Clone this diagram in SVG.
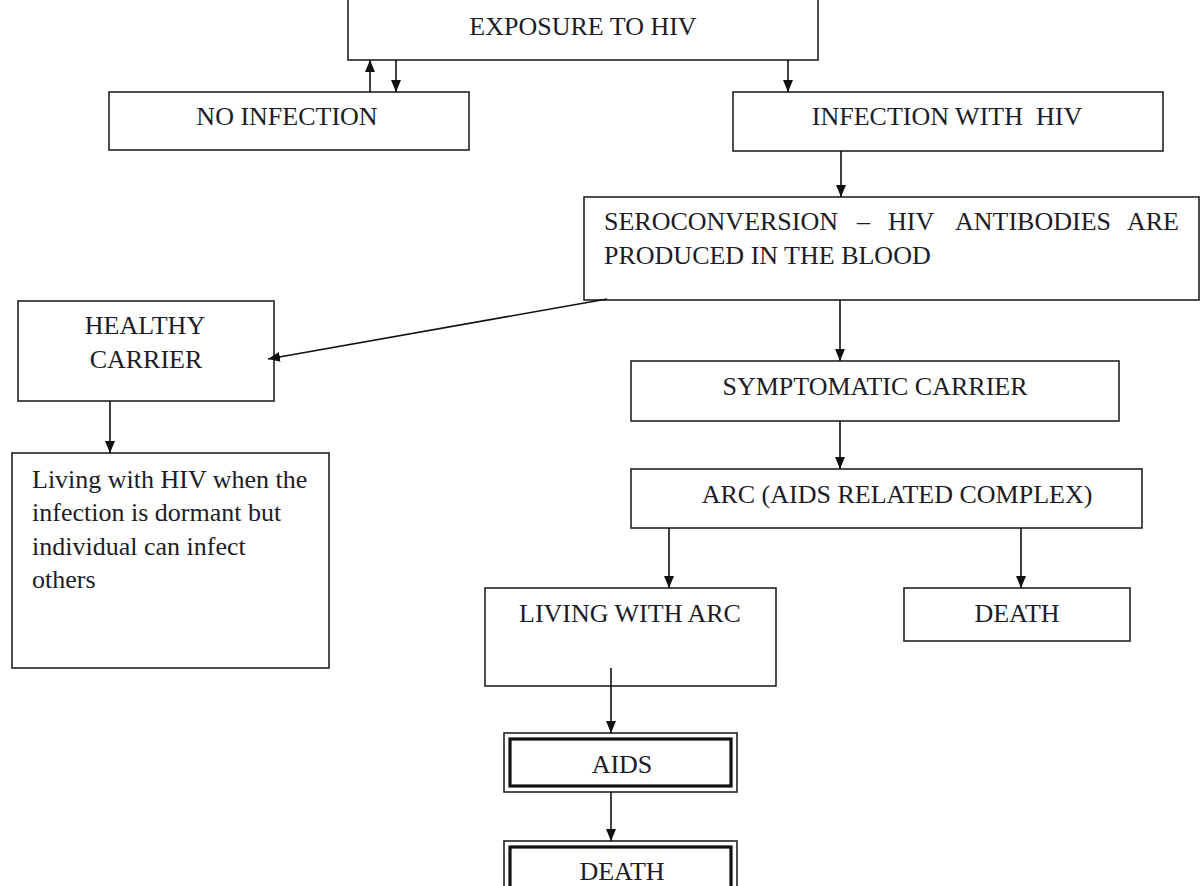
<svg xmlns="http://www.w3.org/2000/svg" width="1202" height="886" viewBox="0 0 1202 886">
<style>
.box{fill:#fff;stroke:#222;stroke-width:1.6}
.thick{fill:none;stroke:#111;stroke-width:3.2}
.t{font-family:"Liberation Serif","Times New Roman",serif;font-size:26px;fill:#1c1c28}
.c{text-anchor:middle}
.conn line{stroke:#111;stroke-width:1.6;marker-end:url(#ah)}
</style>
<defs>
<marker id="ah" viewBox="0 0 12 10" refX="12" refY="5" markerWidth="12" markerHeight="10" markerUnits="userSpaceOnUse" orient="auto">
<path d="M0,0 L12,5 L0,10 z" fill="#111"/>
</marker>
</defs>
<rect width="1202" height="886" fill="#fff"/>
<g id="exposure"><rect class="box" x="348" y="-10" width="470" height="70"/><text class="t c" x="583" y="35">EXPOSURE TO HIV</text></g>
<g id="no-infection"><rect class="box" x="109" y="92" width="360" height="58"/><text class="t c" x="287" y="125">NO INFECTION</text></g>
<g id="infection"><rect class="box" x="733" y="92" width="430" height="59"/><text class="t c" x="947" y="125" xml:space="preserve">INFECTION WITH  HIV</text></g>
<g id="seroconversion"><rect class="box" x="584" y="197" width="615" height="103"/>
<text class="t" y="230"><tspan x="604">SEROCONVERSION</tspan><tspan x="857">–</tspan><tspan x="888">HIV</tspan><tspan x="955">ANTIBODIES</tspan><tspan x="1127">ARE</tspan></text>
<text class="t" x="604" y="264">PRODUCED IN THE BLOOD</text></g>
<g id="healthy-carrier"><rect class="box" x="18" y="301" width="256" height="100"/><text class="t c" x="145" y="334">HEALTHY</text><text class="t c" x="146" y="368">CARRIER</text></g>
<g id="living-hiv"><rect class="box" x="12" y="453" width="317" height="215"/>
<text class="t" x="32" y="488">Living with HIV when the</text>
<text class="t" x="32" y="521">infection is dormant but</text>
<text class="t" x="32" y="555">individual can infect</text>
<text class="t" x="32" y="588">others</text></g>
<g id="symptomatic"><rect class="box" x="631" y="361" width="488" height="60"/><text class="t c" x="875" y="395">SYMPTOMATIC CARRIER</text></g>
<g id="arc"><rect class="box" x="631" y="469" width="511" height="59"/><text class="t c" x="897" y="503">ARC (AIDS RELATED COMPLEX)</text></g>
<g id="living-arc"><rect class="box" x="485" y="588" width="291" height="98"/><text class="t c" x="630" y="622">LIVING WITH ARC</text></g>
<g id="death-right"><rect class="box" x="904" y="588" width="226" height="53"/><text class="t c" x="1017" y="622">DEATH</text></g>
<g id="aids"><rect class="box" x="504" y="733" width="233" height="59"/><rect class="thick" x="510" y="739" width="221" height="47"/><text class="t c" x="622" y="773">AIDS</text></g>
<g id="death-bottom"><rect class="box" x="504" y="841" width="233" height="70"/><rect class="thick" x="510" y="847" width="221" height="60"/><text class="t c" x="622" y="880">DEATH</text></g>
<g class="conn" id="connectors">
<line x1="370" y1="92" x2="370" y2="60"/>
<line x1="396" y1="60" x2="396" y2="92"/>
<line x1="788" y1="60" x2="788" y2="92"/>
<line x1="841" y1="151" x2="841" y2="197"/>
<line x1="607" y1="299" x2="268" y2="359"/>
<line x1="110" y1="401" x2="110" y2="453"/>
<line x1="840" y1="300" x2="840" y2="361"/>
<line x1="840" y1="421" x2="840" y2="469"/>
<line x1="669" y1="528" x2="669" y2="588"/>
<line x1="1021" y1="528" x2="1021" y2="588"/>
<line x1="611" y1="668" x2="611" y2="733"/>
<line x1="611" y1="792" x2="611" y2="841"/>
</g>
</svg>
